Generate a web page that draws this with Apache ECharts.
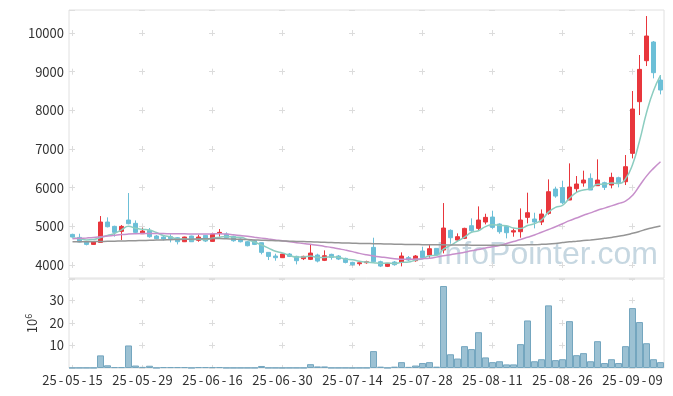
<!DOCTYPE html>
<html><head><meta charset="utf-8">
<script src="https://cdn.jsdelivr.net/npm/echarts@6/dist/echarts.min.js"></script>
<style>html,body{margin:0;padding:0;background:#fff}#c{width:673px;height:396px}</style>
</head><body><div id="c"></div>
<script>
const dates = ['25-05-15','25-05-16','25-05-19','25-05-20','25-05-21','25-05-22','25-05-23','25-05-26','25-05-27','25-05-28',
'25-05-29','25-05-30','25-06-02','25-06-04','25-06-05','25-06-09','25-06-10','25-06-11','25-06-12','25-06-13',
'25-06-16','25-06-17','25-06-18','25-06-19','25-06-20','25-06-23','25-06-24','25-06-25','25-06-26','25-06-27',
'25-06-30','25-07-01','25-07-02','25-07-03','25-07-04','25-07-07','25-07-08','25-07-09','25-07-10','25-07-11',
'25-07-14','25-07-15','25-07-16','25-07-17','25-07-18','25-07-21','25-07-22','25-07-23','25-07-24','25-07-25',
'25-07-28','25-07-29','25-07-30','25-07-31','25-08-01','25-08-04','25-08-05','25-08-06','25-08-07','25-08-08',
'25-08-11','25-08-12','25-08-13','25-08-14','25-08-18','25-08-19','25-08-20','25-08-21','25-08-22','25-08-25',
'25-08-26','25-08-27','25-08-28','25-08-29','25-09-01','25-09-02','25-09-03','25-09-04','25-09-05','25-09-08',
'25-09-09','25-09-10','25-09-11','25-09-12','25-09-15'];

const opens = [4793,4715,4595,4534,4586,5112,5000,4871,5164,5078,
4810,4897,4750,4724,4733,4707,4603,4750,4638,4767,
4612,4819,4802,4741,4672,4603,4629,4578,4328,4233,
4190,4284,4224,4164,4147,4259,4121,4276,4233,4172,
4069,4034,4060,4457,4086,3966,4078,4069,4190,4112,
4362,4259,4431,4388,4897,4647,4690,5017,4948,5112,
5241,5060,5000,4853,4862,5233,5190,5112,5336,5965,
6000,5681,5974,6121,6241,6052,6129,6069,6258,6155,
6888,8224,9284,9767,8784];
const closes = [4724,4595,4534,4595,5112,4991,4845,5000,5069,4845,
4879,4733,4681,4672,4681,4603,4724,4603,4724,4621,
4800,4845,4707,4629,4603,4500,4534,4328,4224,4190,
4284,4224,4112,4224,4310,4103,4241,4198,4155,4069,
4009,4060,4086,4086,3974,4043,4009,4233,4129,4233,
4190,4422,4259,4957,4707,4733,4948,4888,5164,5233,
4974,4862,4836,4888,5164,5353,5112,5319,5896,5784,
5612,6017,6095,6198,5940,6198,6009,6267,6129,6543,
8034,9060,9922,8974,8526];
const lows = [4707,4586,4509,4526,4586,4974,4733,4647,5052,4819,
4802,4707,4664,4638,4586,4534,4595,4603,4603,4595,
4603,4733,4690,4603,4586,4483,4517,4276,4129,4112,
4181,4207,4017,4129,4129,4069,4103,4138,4129,4043,
3983,3983,4034,4086,3948,3948,3983,3966,4103,4086,
4155,4190,4233,4302,4552,4612,4672,4862,4905,5052,
4940,4810,4690,4733,4707,5078,4948,5034,5302,5741,
5577,5681,5870,6026,5940,6052,5940,5983,6009,6069,
6758,7879,9146,8827,8413];
const highs = [4810,4810,4621,4612,5267,5233,5017,5034,5862,5155,
4965,4957,4776,4750,4793,4724,4733,4759,4784,4776,
4836,4931,4845,4759,4690,4621,4655,4578,4328,4293,
4293,4310,4241,4241,4534,4293,4379,4293,4259,4190,
4086,4060,4112,4707,4112,4052,4103,4328,4233,4259,
4474,4517,4431,5603,4922,4819,4965,5207,5517,5327,
5405,5078,5034,4948,5465,5871,5353,5439,6215,6026,
6181,6629,6302,6440,6370,6733,6155,6388,6284,6845,
8500,9431,10439,9793,8914];
// volume, unit 10^6
const volumes = [0.1,0.1,0.1,0.1,5.6,1.2,0.4,0.4,10.0,1.1,
0.5,1.0,0.1,0.4,0.4,0.4,0.4,0.1,0.4,0.4,
0.4,0.4,0.1,0.1,0.1,0.1,0.1,0.9,0.1,0.1,
0.1,0.1,0.1,0.1,1.7,0.7,0.7,0.1,0.1,0.1,
0.1,0.1,0.1,7.5,0.6,0.1,0.6,2.6,0.5,1.1,
2.2,2.6,0.6,36.4,6.1,4.2,9.7,8.4,15.9,4.7,
2.6,3.0,1.6,1.6,10.6,21.1,3.0,3.9,27.8,3.5,
3.9,20.8,5.7,6.6,3.0,11.9,2.2,3.9,2.2,9.7,
26.6,20.4,11.0,3.9,2.6];
const ma5 = [4700,4680,4650,4660,4712,4765,4815,4909,5003,4950,
4928,4905,4841,4762,4729,4674,4672,4657,4667,4655,
4694,4719,4739,4720,4717,4657,4595,4519,4438,4355,
4312,4250,4207,4207,4231,4195,4198,4215,4201,4153,
4134,4098,4076,4062,4043,4050,4040,4069,4078,4129,
4159,4241,4247,4412,4507,4616,4721,4847,4888,4993,
5041,5024,5014,4959,4945,5021,5071,5167,5369,5493,
5545,5726,5881,5941,5972,6090,6088,6122,6109,6229,
6596,7207,7938,8507,8903];
const ma20 = [4680,4690,4700,4712,4730,4750,4770,4788,4800,4808,
4813,4815,4815,4813,4811,4809,4807,4805,4804,4804,
4806,4810,4800,4782,4763,4742,4718,4696,4672,4650,
4628,4600,4578,4556,4535,4512,4482,4455,4420,4386,
4347,4302,4265,4235,4210,4188,4162,4152,4150,4154,
4163,4178,4205,4238,4265,4298,4330,4368,4400,4440,
4472,4503,4555,4608,4660,4718,4778,4848,4918,4990,
5068,5148,5215,5288,5350,5418,5472,5530,5590,5652,
5800,6050,6300,6500,6672];
const ma60 = [4600,4602,4604,4606,4610,4614,4618,4622,4626,4630,
4635,4640,4645,4650,4655,4660,4665,4670,4675,4680,
4685,4685,4680,4672,4665,4658,4650,4643,4636,4630,
4624,4618,4612,4606,4600,4594,4588,4582,4576,4570,
4565,4560,4556,4552,4548,4544,4540,4536,4532,4530,
4528,4526,4524,4522,4520,4518,4516,4515,4514,4513,
4512,4512,4513,4515,4518,4522,4527,4535,4545,4560,
4580,4600,4615,4632,4648,4665,4690,4715,4745,4775,
4820,4870,4925,4970,5010];

const FONT = '"Noto Sans CJK KR","Noto Sans",sans-serif';
const UP = '#e8363c', DOWN = '#6cbfd7';
const chart = echarts.init(document.getElementById('c'), null, {renderer: 'canvas'});
const candleData = dates.map((d, i) => [opens[i], closes[i], lows[i], highs[i]]);
const crossColor = '#dcdcdc';
chart.setOption({
  animation: false,
  backgroundColor: '#ffffff',
  textStyle: {fontFamily: FONT},
  graphic: [{
    type: 'text', right: 15, top: 239, z: 0, silent: true,
    style: {text: 'InfoPointer.com', font: '32px "Liberation Sans", sans-serif', fill: '#c6d7e1'}
  }],
  grid: [
    {left: 69, right: 9, top: 10, height: 268, show: true, borderColor: '#e0e0e0', borderWidth: 1, z: 1},
    {left: 69, right: 9, top: 279, height: 89, show: true, borderColor: '#e0e0e0', borderWidth: 1, z: 1}
  ],
  xAxis: [
    {type: 'category', gridIndex: 0, data: dates, boundaryGap: true,
     axisLine: {show: false}, axisTick: {show: false}, axisLabel: {show: false},
     splitLine: {show: true, interval: 9, alignWithLabel: true,
       lineStyle: {color: crossColor, width: 1, type: [6, 32.672], dashOffset: 18.67}}},
    {type: 'category', gridIndex: 1, data: dates, boundaryGap: true,
     axisLine: {show: false}, axisTick: {show: false},
     axisLabel: {interval: 9, fontSize: 13, color: '#333', margin: 6, fontFamily: FONT,
       formatter: v => v.split('-').join('{h|-}'),
       rich: {h: {fontSize: 13, color: '#333', fontFamily: FONT, padding: [0, 2, 0, 2]}}},
     splitLine: {show: true, interval: 9, alignWithLabel: true,
       lineStyle: {color: crossColor, width: 1, type: [6, 16.53], dashOffset: 4.13}}}
  ],
  yAxis: [
    {type: 'value', gridIndex: 0, min: 3665, max: 10595,
     axisLine: {show: false}, axisTick: {show: false},
     axisLabel: {fontSize: 13, color: '#333', margin: 5, fontFamily: FONT,
       formatter: v => (Math.abs(v % 1000) < 1e-6 ? String(v) : '')},
     splitLine: {show: true, lineStyle: {color: crossColor, width: 1, type: [6, 64], dashOffset: 0}}},
    {type: 'value', gridIndex: 1, min: 0, max: 39.5,
     axisLine: {show: false}, axisTick: {show: false},
     axisLabel: {fontSize: 13, color: '#333', margin: 5, fontFamily: FONT,
       formatter: v => (v > 0 && Math.abs(v % 10) < 1e-6 ? String(v) : '')},
     splitLine: {show: true, lineStyle: {color: crossColor, width: 1, type: [6, 64], dashOffset: 0}},
     name: '{a|10}{b|6}', nameLocation: 'middle', nameRotate: 90, nameGap: 28,
     nameTextStyle: {rich: {a: {fontSize: 13, color: '#333', fontFamily: FONT}, b: {fontSize: 9, color: '#333', fontFamily: FONT, verticalAlign: 'top', padding: [0, 0, 8, 0]}}}}
  ],
  series: [
    {type: 'candlestick', name: 'price', xAxisIndex: 0, yAxisIndex: 0, data: candleData, barWidth: 5, z: 3,
     itemStyle: {color: UP, color0: DOWN, borderColor: UP, borderColor0: DOWN, borderWidth: 1}},
    {type: 'line', name: 'MA5', data: ma5, smooth: true, showSymbol: false, z: 4,
     lineStyle: {color: '#8ccdc0', width: 1.5}},
    {type: 'line', name: 'MA20', data: ma20, smooth: true, showSymbol: false, z: 4,
     lineStyle: {color: '#c78fcb', width: 1.5}},
    {type: 'line', name: 'MA60', data: ma60, smooth: true, showSymbol: false, z: 4,
     lineStyle: {color: '#959595', width: 1.5}},
    {type: 'bar', name: 'volume', xAxisIndex: 1, yAxisIndex: 1, data: volumes, barWidth: '100%', z: 3,
     itemStyle: {color: '#9cc1d3', borderColor: '#74a6bf', borderWidth: 1}}
  ]
});
</script>
</body></html>
